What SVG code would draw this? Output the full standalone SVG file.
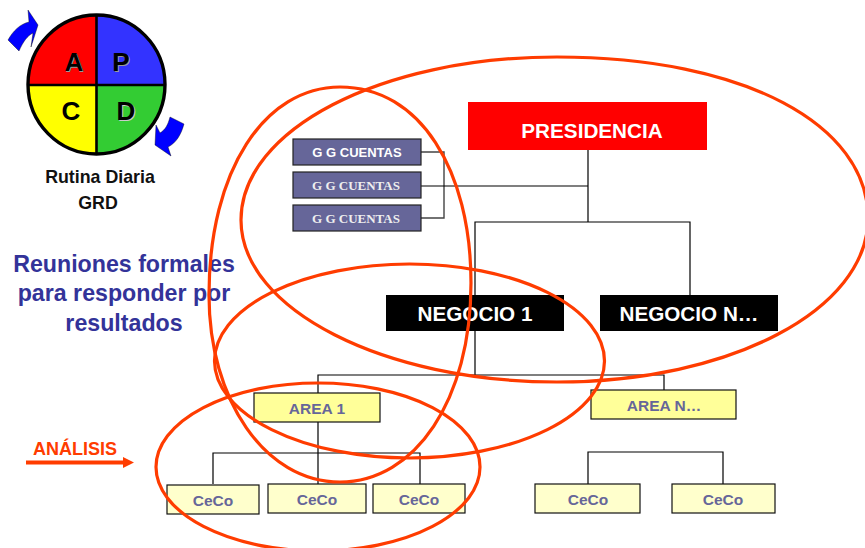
<svg xmlns="http://www.w3.org/2000/svg" width="865" height="548" viewBox="0 0 865 548">
<style>
text{font-family:"Liberation Sans",Arial,sans-serif;font-weight:bold;text-anchor:middle}
.c{fill:none;stroke:#000;stroke-width:1.2}
.g{fill:none;stroke:#444;stroke-width:1.4}
.e{fill:none;stroke:#ff3c00;stroke-width:3.2}
.gg{fill:#666699;stroke:#222;stroke-width:1.2}
.a{fill:#ffff99;stroke:#111;stroke-width:1.2}
.ce{fill:#ffffcc;stroke:#111;stroke-width:1.2}
.t{fill:#666699;font-size:15.500px}
.l{font-size:26px;fill:#000}
.b{fill:#0000ff;stroke:#000;stroke-width:.4}
.r{fill:#333399;font-size:23.200px}
</style>
<rect width="865" height="548" fill="#fff"/>
<g id="connectors">
<path class="g" d="M421 152H444V218H421"/>
<path class="c" d="M421 186H588M588 150V222M475 295V222H690V295M475 331V375M318 393V375H664V390M318 422V484M213 484V453H420V484M588 484V452H723V484"/>
</g>
<g id="pdca">
<path d="M96.500 85V15A69 70 0 0 0 28 85Z" fill="#ff0000"/>
<path d="M96.500 85V15A69 70 0 0 1 165 85Z" fill="#3333ff"/>
<path d="M96.500 85H28A69 70 0 0 0 96.500 154Z" fill="#ffff00"/>
<path d="M96.500 85H165A69 70 0 0 1 96.500 154Z" fill="#33cc33"/>
<ellipse cx="96.500" cy="84.500" rx="68.500" ry="69.500" fill="none" stroke="#000" stroke-width="3.400"/>
<path d="M96.500 15V154M28 85H165" stroke="#000" stroke-width="2.600"/>
<text x="74" y="71" font-size="26" fill="#999" dx="1" dy="1">A</text>
<text x="74" y="71" class="l">A</text>
<text x="121" y="71" font-size="26" fill="#999" dx="1" dy="1">P</text>
<text x="121" y="71" class="l">P</text>
<text x="71" y="120" class="l">C</text>
<text x="126" y="120" font-size="26" fill="#ccc" dx="1" dy="1">D</text>
<text x="126" y="120" class="l">D</text>
<path class="b" d="M8 40C13 31 20 24 29 22L28 10L38 25L31 47L33 33C27 36 23 42 19 51Z"/>
<path class="b" d="M184 124C181 135 176 143 168 147L171 156L155 145L156 125L160 133C165 130 168 125 170 117Z"/>
<text x="100" y="183" font-size="17.800" fill="#111">Rutina Diaria</text>
<text x="98" y="209" font-size="17.800" fill="#111">GRD</text>
</g>
<g id="presidencia"><rect x="468" y="102" width="239" height="48" fill="#ff0000"/><text x="592" y="138" font-size="20.700" fill="#fff">PRESIDENCIA</text></g>
<g id="gg1"><rect class="gg" x="293" y="139" width="128" height="26"/><text x="357" y="157" font-size="13" fill="#fff">G G CUENTAS</text></g>
<g id="gg2"><rect class="gg" x="293" y="172" width="128" height="26"/><text x="356" y="190" font-size="13" fill="#eee" style="font-family:'Liberation Serif',serif">G G CUENTAS</text></g>
<g id="gg3"><rect class="gg" x="293" y="205" width="128" height="26"/><text x="356" y="223" font-size="13" fill="#eee" style="font-family:'Liberation Serif',serif">G G CUENTAS</text></g>
<g id="negocio1"><rect x="386" y="295" width="178" height="36" fill="#000"/><text x="475" y="321" font-size="20.700" fill="#fff">NEGOCIO 1</text></g>
<g id="negocion"><rect x="600" y="295" width="178" height="36" fill="#000"/><text x="689" y="321" font-size="20.700" fill="#fff">NEGOCIO N…</text></g>
<g id="area1"><rect class="a" x="254" y="393" width="126" height="29"/><text class="t" x="317" y="414">AREA 1</text></g>
<g id="arean"><rect class="a" x="591" y="390" width="145" height="29"/><text class="t" x="664" y="411">AREA N…</text></g>
<g id="ceco1"><rect class="ce" x="167" y="485" width="92" height="29"/><text class="t" x="213" y="506">CeCo</text></g>
<g id="ceco2"><rect class="ce" x="268" y="484" width="98" height="29"/><text class="t" x="317" y="505">CeCo</text></g>
<g id="ceco3"><rect class="ce" x="373" y="484" width="92" height="29"/><text class="t" x="419" y="505">CeCo</text></g>
<g id="ceco4"><rect class="ce" x="535" y="484" width="105" height="29"/><text class="t" x="588" y="505">CeCo</text></g>
<g id="ceco5"><rect class="ce" x="672" y="484" width="103" height="29"/><text class="t" x="723" y="505">CeCo</text></g>
<g id="reuniones">
<text class="r" x="124" y="272">Reuniones formales</text>
<text class="r" x="124" y="301">para responder por</text>
<text class="r" x="124" y="331">resultados</text>
</g>
<g id="analisis">
<text x="75" y="455" font-size="18" fill="#ff3c00">ANÁLISIS</text>
<path d="M26 460.500H123V457L134 462.500L123 468V464.500H26Z" fill="#ff3c00"/>
</g>
<g id="ellipses">
<path class="e" d="M241 220C241 130 380 57 557 57C745 57 868 125 868 218C868 310 730 382 557 382C385 382 241 310 241 220Z"/>
<path class="e" d="M209 295C209 170 265 87 340 87C420 87 471 170 471 283C471 400 415 482 340 482C265 482 209 400 209 295Z"/>
<ellipse class="e" cx="409.500" cy="361" rx="195" ry="97"/>
<ellipse class="e" cx="318" cy="467" rx="162" ry="84"/>
</g>
</svg>
